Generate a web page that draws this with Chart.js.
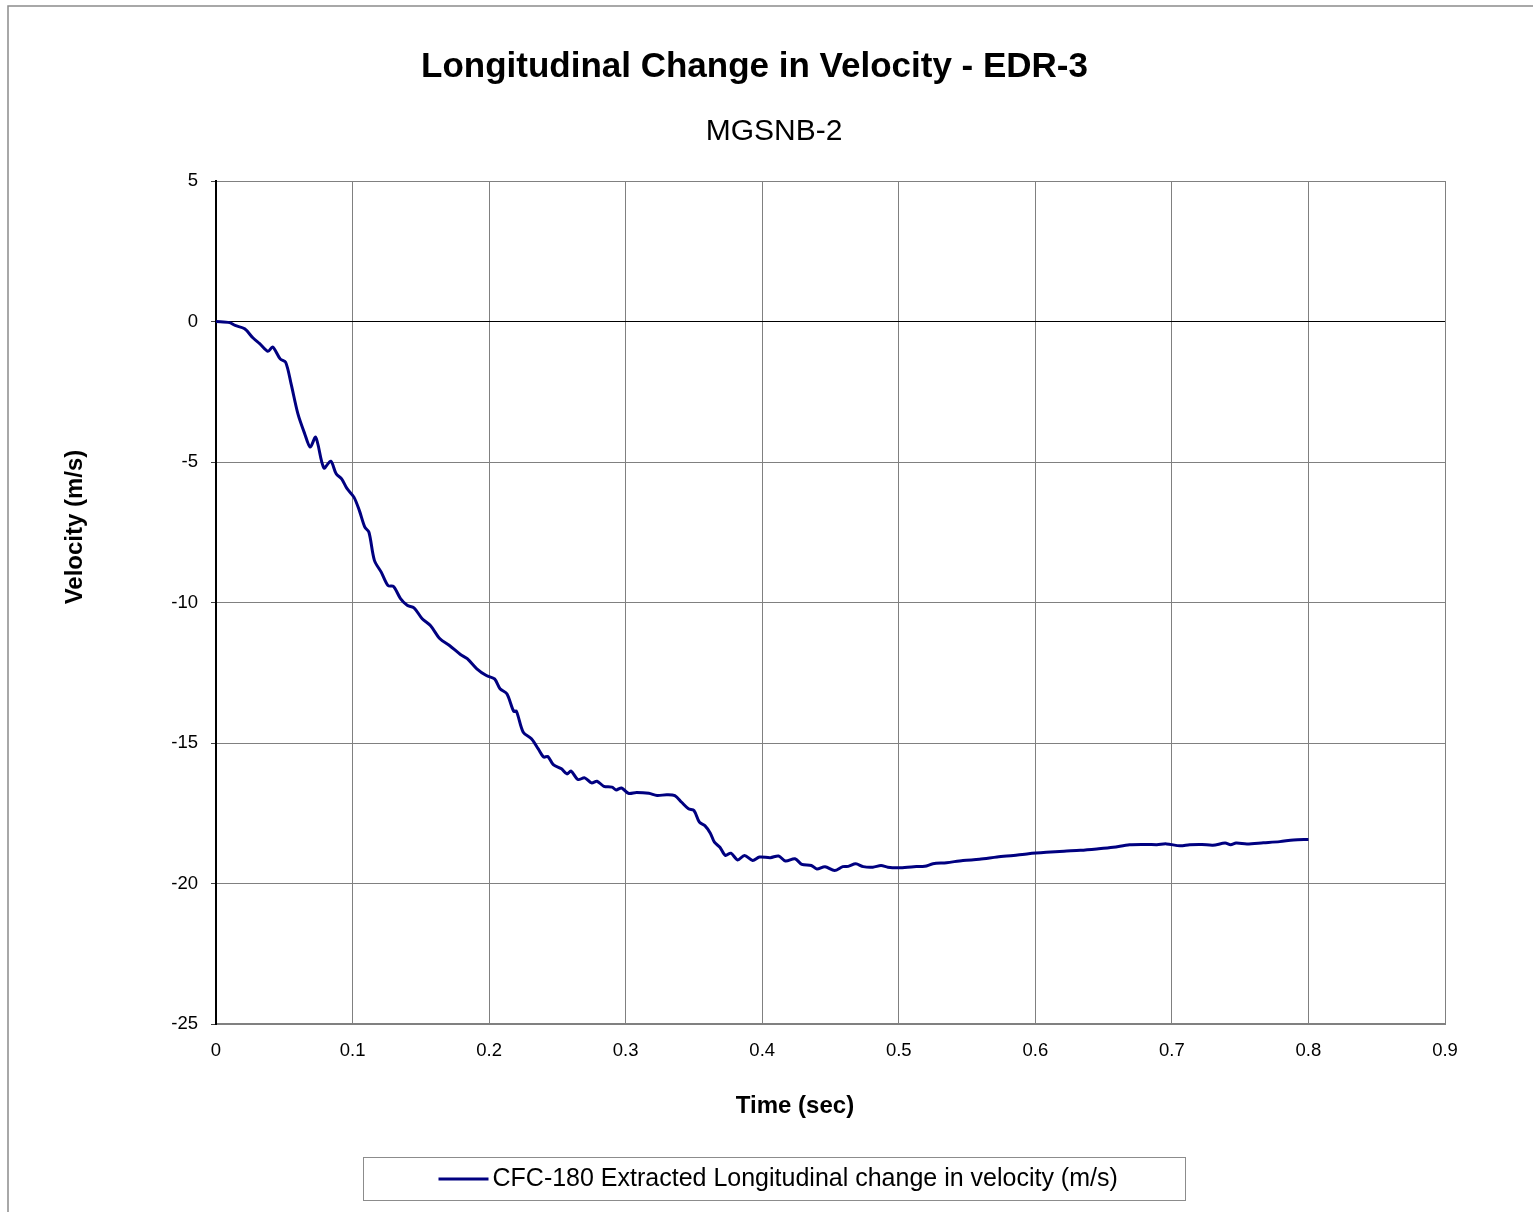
<!DOCTYPE html>
<html>
<head>
<meta charset="utf-8">
<title>Longitudinal Change in Velocity - EDR-3</title>
<script src="https://cdn.jsdelivr.net/npm/chart.js@4.4.1/dist/chart.umd.min.js"></script>
<style>
    html, body { margin: 0; padding: 0; background: #fff; }
    #wrap { width: 1533px; height: 1212px; position: relative; }
</style>
</head>
<body>
<div id="wrap"><canvas id="graficoVelocidade"></canvas></div>
<script>
// time (s) and velocity (m/s)
const timeSec = [
    0, 0.010, 0.014, 0.021, 0.027, 0.032, 0.038, 0.0415, 0.047, 0.051,
    0.055, 0.060, 0.065, 0.069, 0.073, 0.079, 0.084, 0.088, 0.092, 0.096,
    0.101, 0.105, 0.109, 0.112, 0.116, 0.121, 0.126, 0.130, 0.135, 0.140,
    0.145, 0.151, 0.157, 0.164, 0.171, 0.179, 0.184, 0.191, 0.198, 0.204,
    0.208, 0.213, 0.218, 0.220, 0.225, 0.231, 0.236, 0.240, 0.243, 0.247,
    0.253, 0.257, 0.260, 0.265, 0.270, 0.275, 0.279, 0.284, 0.290, 0.293,
    0.297, 0.302, 0.308, 0.317, 0.323, 0.330, 0.336, 0.341, 0.346, 0.350,
    0.354, 0.358, 0.362, 0.365, 0.369, 0.373, 0.377, 0.382, 0.387, 0.393,
    0.398, 0.406, 0.412, 0.417, 0.424, 0.429, 0.436, 0.440, 0.446, 0.453,
    0.459, 0.463, 0.4685, 0.474, 0.481, 0.487, 0.492, 0.500, 0.511, 0.519,
    0.525, 0.535, 0.547, 0.559, 0.572, 0.584, 0.595, 0.608, 0.621, 0.633,
    0.645, 0.657, 0.669, 0.682, 0.689, 0.696, 0.706, 0.713, 0.722, 0.730,
    0.739, 0.743, 0.747, 0.755, 0.767, 0.779, 0.789, 0.800
];
const velocity = [
    0, -0.04, -0.14, -0.26, -0.58, -0.79, -1.06, -0.91, -1.33, -1.45,
    -2.22, -3.29, -4.0, -4.47, -4.12, -5.21, -4.97, -5.42, -5.6, -5.95,
    -6.25, -6.73, -7.32, -7.5, -8.5, -8.92, -9.4, -9.43, -9.85, -10.1,
    -10.19, -10.58, -10.82, -11.29, -11.53, -11.85, -12.0, -12.36, -12.6, -12.72,
    -13.07, -13.25, -13.87, -13.87, -14.62, -14.85, -15.21, -15.5, -15.48, -15.77,
    -15.92, -16.1, -16.0, -16.3, -16.24, -16.42, -16.36, -16.54, -16.57, -16.67,
    -16.6, -16.79, -16.76, -16.79, -16.87, -16.84, -16.87, -17.11, -17.34, -17.4,
    -17.82, -17.94, -18.21, -18.53, -18.71, -19.0, -18.92, -19.16, -19.0, -19.18,
    -19.06, -19.08, -19.02, -19.2, -19.12, -19.32, -19.36, -19.48, -19.4, -19.54,
    -19.4, -19.39, -19.3, -19.4, -19.42, -19.36, -19.42, -19.44, -19.4, -19.39,
    -19.3, -19.26, -19.18, -19.14, -19.06, -19.0, -18.94, -18.89, -18.85, -18.82,
    -18.77, -18.71, -18.62, -18.61, -18.62, -18.59, -18.66, -18.62, -18.61, -18.64,
    -18.56, -18.62, -18.56, -18.59, -18.55, -18.51, -18.45, -18.43
];
const xTicks = [0, 0.1, 0.2, 0.3, 0.4, 0.5, 0.6, 0.7, 0.8, 0.9];
const yTicks = [5, 0, -5, -10, -15, -20, -25];

const chartTitle = 'Longitudinal Change in Velocity - EDR-3';
const chartSubtitle = 'MGSNB-2';
const seriesLabel = 'CFC-180 Extracted Longitudinal change in velocity (m/s)';
const xTitle = 'Time (sec)';
const yTitle = 'Velocity (m/s)';

const FONT = "'Liberation Sans', Arial, sans-serif";
const GRID = '#808080';

// frame, subtitle, axis titles and boxed legend drawn the way the spreadsheet does it
const excelFrame = {
    id: 'excelFrame',
    beforeDraw(chart) {
        const ctx = chart.ctx;
        ctx.save();
        ctx.fillStyle = '#fff';
        ctx.fillRect(0, 0, chart.width, chart.height);
        ctx.strokeStyle = '#8c8c8c';
        ctx.lineWidth = 1.5;
        ctx.strokeRect(8, 6, chart.width + 50, chart.height + 50);
        ctx.restore();
    },
    afterDraw(chart) {
        const ctx = chart.ctx;
        const a = chart.chartArea;
        ctx.save();
        ctx.fillStyle = '#000';
        ctx.textAlign = 'center';
        ctx.textBaseline = 'middle';

        ctx.font = '30px ' + FONT;
        ctx.fillText(chartSubtitle, a.left + 558, a.top - 49);

        ctx.font = 'bold 24px ' + FONT;
        ctx.fillText(xTitle, a.left + 579, a.bottom + 82);

        ctx.translate(a.left - 141, a.top + 346);
        ctx.rotate(-Math.PI / 2);
        ctx.fillText(yTitle, 0, 0);
        ctx.restore();

        // legend
        const ds = chart.data.datasets[0];
        const cx = chart.width / 2 + 7;
        const boxW = 822, boxH = 43;
        const left = cx - boxW / 2;
        const top = chart.height - 55;
        ctx.save();
        ctx.strokeStyle = '#8c8c8c';
        ctx.lineWidth = 1;
        ctx.strokeRect(Math.round(left) + 0.5, top + 0.5, boxW, boxH);
        const midY = top + boxH / 2 + 0.5;
        ctx.strokeStyle = ds.borderColor;
        ctx.lineWidth = ds.borderWidth;
        ctx.beginPath();
        ctx.moveTo(left + 76, midY);
        ctx.lineTo(left + 126, midY);
        ctx.stroke();
        ctx.fillStyle = '#000';
        ctx.font = '25px ' + FONT;
        ctx.textAlign = 'left';
        ctx.textBaseline = 'middle';
        ctx.fillText(ds.label, left + 130, midY);
        ctx.restore();
    }
};

function renderGrafico() {
    const ctx = document.getElementById('graficoVelocidade');

    new Chart(ctx, {
        type: 'line',
        data: {
            datasets: [{
                label: seriesLabel,
                data: timeSec.map((t, i) => ({ x: t, y: velocity[i] })),
                borderColor: '#000080',
                borderWidth: 3,
                pointRadius: 0,
                tension: 0.3,
                fill: false
            }]
        },
        options: {
            responsive: true,
            maintainAspectRatio: false,
            animation: false,
            layout: {
                padding: { left: 64, right: 88, top: 0, bottom: 78 }
            },
            plugins: {
                legend: { display: false },
                tooltip: { enabled: false },
                title: {
                    display: true,
                    text: chartTitle,
                    color: '#000',
                    font: { family: FONT, size: 35, weight: 'bold', lineHeight: 1.2 },
                    padding: { top: 46, bottom: 93 }
                }
            },
            scales: {
                x: {
                    type: 'linear',
                    min: 0,
                    max: 0.9,
                    afterBuildTicks: scale => { scale.ticks = xTicks.map(v => ({ value: v })); },
                    afterFit: scale => { scale.height = 110; },
                    ticks: {
                        color: '#000',
                        font: { family: FONT, size: 18.5 },
                        padding: 16,
                        maxRotation: 0,
                        callback: value => String(value)
                    },
                    grid: { color: GRID, lineWidth: 1, drawTicks: false },
                    border: { color: GRID, width: 2 }
                },
                y: {
                    type: 'linear',
                    min: -25,
                    max: 5,
                    afterBuildTicks: scale => { scale.ticks = yTicks.map(v => ({ value: v })); },
                    afterFit: scale => { scale.width = 152; },
                    ticks: {
                        color: '#000',
                        font: { family: FONT, size: 18.5 },
                        padding: 13,
                        callback: value => String(value)
                    },
                    grid: {
                        color: c => (c.tick && c.tick.value === 0 ? '#000' : GRID),
                        lineWidth: 1,
                        tickLength: 5,
                        tickColor: '#404040'
                    },
                    border: { color: '#000', width: 2 }
                }
            }
        },
        plugins: [excelFrame]
    });
}

document.addEventListener('DOMContentLoaded', () => {
    renderGrafico();
});
</script>
</body>
</html>
